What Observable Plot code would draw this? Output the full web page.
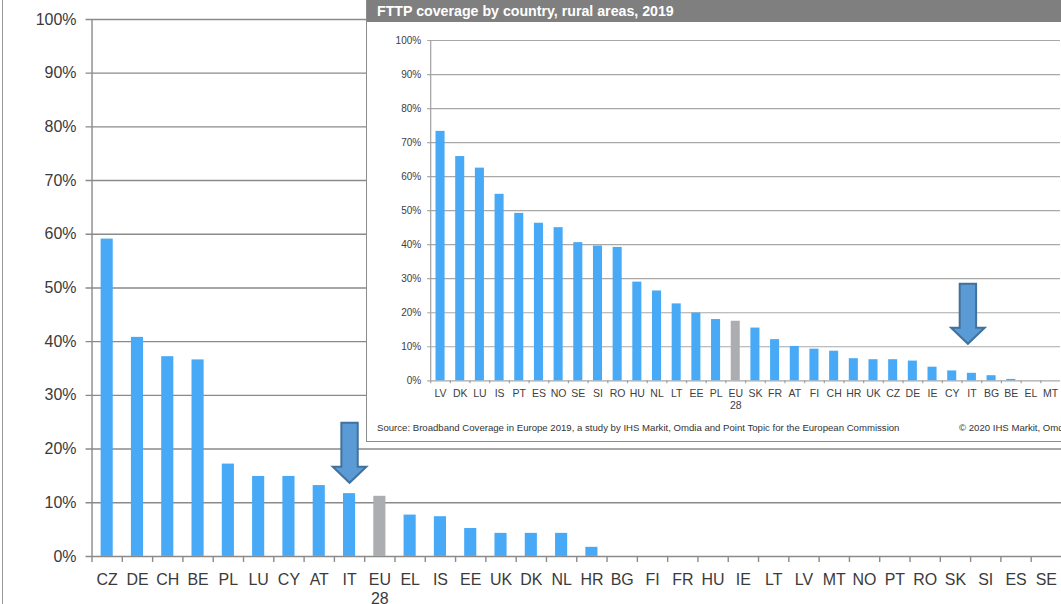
<!DOCTYPE html>
<html>
<head>
<meta charset="utf-8">
<script src="https://cdn.jsdelivr.net/npm/d3@7"></script>
<script src="https://cdn.jsdelivr.net/npm/@observablehq/plot@0.6"></script>
<style>
  html, body { margin: 0; padding: 0; background: #fff; }
  #wrap { position: relative; width: 1061px; height: 604px; overflow: hidden; background: #fff; font-family: "Liberation Sans", Arial, sans-serif; }
  #main { position: absolute; left: 0; top: 0; }
  #leftline { position: absolute; left: 2px; top: 0; width: 1px; height: 604px; background: #9a9a9a; }
  #inset { position: absolute; left: 366px; top: 0; width: 760px; height: 442px; box-sizing: border-box; border-left: 1px solid #8c8c8c; border-bottom: 1px solid #8c8c8c; background: #fff; }
  #inset-head { position: absolute; left: 0; top: 0; right: 0; height: 22px; background: #7f7f7f; color: #fff; font-weight: bold; font-size: 14.2px; line-height: 22px; padding-left: 10px; }
  #inset-plot { position: absolute; left: -1px; top: 22px; }
  .src { position: absolute; top: 422px; font-size: 9.6px; color: #333; white-space: nowrap; line-height: 11px; }
</style>
</head>
<body>
<div id="wrap">
  <div id="main"></div>
  <div id="leftline"></div>
  <div id="inset">
    <div id="inset-head">FTTP coverage by country, rural areas, 2019</div>
    <div id="inset-plot"></div>
    <div class="src" style="left:10px">Source: Broadband Coverage in Europe 2019, a study by IHS Markit, Omdia and Point Topic for the European Commission</div>
    <div class="src" style="left:592px">© 2020 IHS Markit, Omdia and Point Topic</div>
  </div>
</div>
<script>
// ---------- DATA ----------
const mainCountries = ["CZ","DE","CH","BE","PL","LU","CY","AT","IT","EU28","EL","IS","EE","UK","DK","NL","HR","BG","FI","FR","HU","IE","LT","LV","MT","NO","PT","RO","SK","SI","ES","SE"];
const mainValues = [0.591,0.408,0.372,0.366,0.172,0.149,0.149,0.132,0.117,0.112,0.077,0.074,0.052,0.043,0.043,0.043,0.017,0,0,0,0,0,0,0,0,0,0,0,0,0,0,0];

const ruralCountries = ["LV","DK","LU","IS","PT","ES","NO","SE","SI","RO","HU","NL","LT","EE","PL","EU28","SK","FR","AT","FI","CH","HR","UK","CZ","DE","IE","CY","IT","BG","BE","EL","MT"];
const ruralValues = [0.733,0.659,0.625,0.548,0.492,0.463,0.450,0.406,0.396,0.392,0.290,0.264,0.226,0.199,0.180,0.175,0.155,0.121,0.101,0.093,0.087,0.065,0.062,0.062,0.058,0.040,0.029,0.022,0.015,0.004,0,0];

const yTicks = [0,0.1,0.2,0.3,0.4,0.5,0.6,0.7,0.8,0.9,1];
const highlight = "IT";          // country marked with the arrow
const average = "EU28";          // average bar (grey)
const mainArrowY = 0.193;        // arrow centre, in coverage units
const ruralArrowY = 0.197;

// ---------- STYLE ----------
const BLUE = "#48aaf6", GREY = "#acadb1";
const ARROW_FILL = "#5b9bd5", ARROW_STROKE = "#41719c";
const fmtPct = d => Math.round(d * 100) + "%";
const fmtCat = d => d === "EU28" ? "EU\n28" : d;

// block down-arrow symbol (pixel shape around its centre)
const arrowSymbol = {
  draw(ctx) {
    const sw = 8.2, hw = 16.8, h = 30, hs = 14;
    ctx.moveTo(-sw, -h); ctx.lineTo(sw, -h); ctx.lineTo(sw, hs); ctx.lineTo(hw, hs);
    ctx.lineTo(0, h); ctx.lineTo(-hw, hs); ctx.lineTo(-sw, hs); ctx.closePath();
  }
};

// ---------- MAIN CHART ----------
{
  const W = 1063, H = 604, ML = 91.7, MR = 0, MT = 19, MB = 47;
  const step = (W - ML - MR) / mainCountries.length;
  const pxY = 1 / (H - MT - MB);
  const data = mainCountries.map((c, i) => ({c, v: mainValues[i]}));
  const chart = Plot.plot({
    width: W, height: H,
    marginLeft: ML, marginRight: MR, marginTop: MT, marginBottom: MB,
    style: {fontFamily: "'Liberation Sans', Arial, sans-serif", fontSize: "16px", color: "#3a3a3a", background: "transparent", overflow: "visible"},
    x: {domain: mainCountries, paddingInner: 0.6, paddingOuter: 0.3, round: false, axis: null},
    y: {domain: [0, 1], axis: null},
    marks: [
      Plot.ruleY(yTicks, {stroke: "#8a8a8a", strokeWidth: 1.4, insetLeft: -6}),
      Plot.ruleX([mainCountries[0]], {dx: -step / 2, y1: 0, y2: 1, stroke: "#8a8a8a", strokeWidth: 1.4}),
      Plot.ruleX(mainCountries, {x: d => d, dx: -step / 2, y1: 0, y2: -6 * pxY, stroke: "#8a8a8a", strokeWidth: 1.4}),
      Plot.axisY(yTicks, {label: null, tickSize: 0, tickPadding: 15.5, tickFormat: fmtPct, fontSize: 16, fill: "#3a3a3a"}),
      Plot.axisX({label: null, tickSize: 0, tickPadding: 15, tickFormat: fmtCat, fontSize: 16, lineHeight: 1.2, fill: "#3a3a3a"}),
      Plot.barY(data, {x: "c", y: "v", fill: d => d.c === average ? GREY : BLUE}),
      Plot.dot([{c: highlight, v: mainArrowY}], {x: "c", y: "v", symbol: arrowSymbol, r: 10, fill: ARROW_FILL, stroke: ARROW_STROKE, strokeWidth: 2})
    ]
  });
  document.getElementById("main").append(chart);
}

// ---------- INSET CHART (rural) ----------
{
  const W = 720, H = 420, ML = 64.2, MT = 18, MB = 61.7;
  const innerW = 19.68 * ruralCountries.length;
  const MR = W - ML - innerW;
  const step = innerW / ruralCountries.length;
  const pxY = 1 / (H - MT - MB);
  const data = ruralCountries.map((c, i) => ({c, v: ruralValues[i]}));
  const chart = Plot.plot({
    width: W, height: H,
    marginLeft: ML, marginRight: MR, marginTop: MT, marginBottom: MB,
    style: {fontFamily: "'Liberation Sans', Arial, sans-serif", fontSize: "10px", color: "#404040", background: "transparent", overflow: "visible"},
    x: {domain: ruralCountries, paddingInner: 0.54, paddingOuter: 0.27, round: false, axis: null},
    y: {domain: [0, 1], axis: null},
    marks: [
      Plot.ruleY(yTicks, {stroke: "#a8a8a8", strokeWidth: 1.2, insetLeft: -3}),
      Plot.ruleX([ruralCountries[0]], {dx: -step / 2, y1: 0, y2: 1, stroke: "#a0a0a0", strokeWidth: 1.2}),
      Plot.ruleX(ruralCountries, {x: d => d, dx: -step / 2, y1: 0, y2: -3 * pxY, stroke: "#a0a0a0", strokeWidth: 1.2}),
      Plot.axisY(yTicks, {label: null, tickSize: 0, tickPadding: 9.5, tickFormat: fmtPct, fontSize: 10, fill: "#404040"}),
      Plot.axisX({label: null, tickSize: 0, tickPadding: 8, tickFormat: fmtCat, fontSize: 10.5, lineHeight: 1.15, fill: "#404040"}),
      Plot.barY(data, {x: "c", y: "v", fill: d => d.c === average ? GREY : BLUE}),
      Plot.dot([{c: highlight, v: ruralArrowY}], {x: "c", y: "v", dx: -4, symbol: arrowSymbol, r: 10, fill: ARROW_FILL, stroke: ARROW_STROKE, strokeWidth: 2})
    ]
  });
  document.getElementById("inset-plot").append(chart);
}
</script>
</body>
</html>
